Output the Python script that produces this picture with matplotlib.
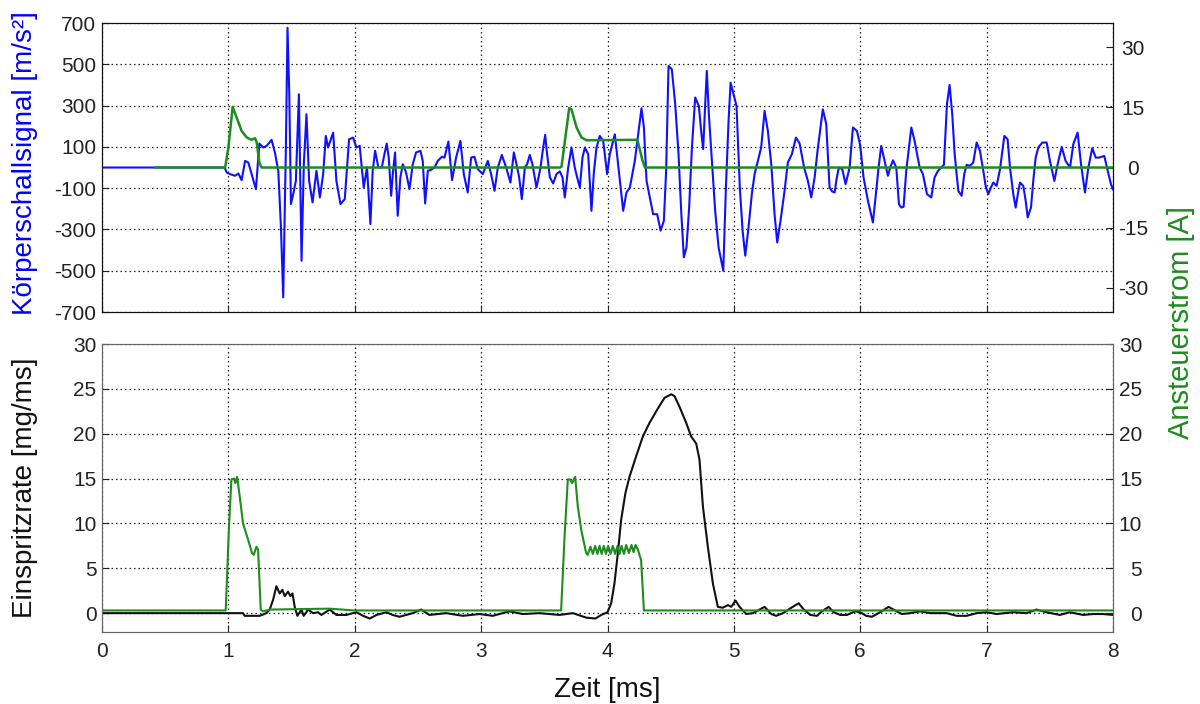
import numpy as np
import matplotlib.pyplot as plt

plt.rcParams['font.family'] = ['Liberation Sans', 'DejaVu Sans']
plt.rcParams['axes.unicode_minus'] = False

# top panel: Koerperschall (blue, left axis) and Ansteuerstrom (green, right axis)
t_ks = [0.0, 0.97, 0.987, 1.013, 1.053, 1.079, 1.105, 1.132, 1.158, 1.184, 1.218, 1.245, 1.276, 1.303,
        1.342, 1.368, 1.395, 1.416, 1.434, 1.455, 1.468, 1.482, 1.495, 1.513, 1.534, 1.558, 1.579, 1.597,
        1.618, 1.639, 1.666, 1.697, 1.724, 1.750, 1.771, 1.789, 1.829, 1.855, 1.887, 1.921, 1.955, 1.987,
        2.013, 2.039, 2.071, 2.097, 2.124, 2.142, 2.161, 2.187, 2.214, 2.235, 2.253, 2.269, 2.288, 2.301,
        2.319, 2.340, 2.361, 2.380, 2.406, 2.433, 2.459, 2.485, 2.520, 2.538, 2.557, 2.578, 2.604, 2.631,
        2.657, 2.689, 2.710, 2.741, 2.770, 2.802, 2.836, 2.863, 2.894, 2.921, 2.947, 2.974, 3.013, 3.053,
        3.079, 3.106, 3.132, 3.164, 3.198, 3.232, 3.259, 3.280, 3.301, 3.322, 3.346, 3.364, 3.385, 3.406,
        3.438, 3.470, 3.491, 3.507, 3.522, 3.544, 3.570, 3.596, 3.623, 3.644, 3.662, 3.689, 3.715, 3.741,
        3.760, 3.781, 3.802, 3.821, 3.847, 3.873, 3.892, 3.913, 3.939, 3.966, 3.997, 4.018, 4.058, 4.084,
        4.124, 4.150, 4.177, 4.216, 4.243, 4.269, 4.288, 4.309, 4.335, 4.361, 4.393, 4.420, 4.446, 4.464,
        4.483, 4.509, 4.536, 4.562, 4.583, 4.604, 4.625, 4.646, 4.668, 4.694, 4.723, 4.741, 4.757, 4.773,
        4.786, 4.802, 4.826, 4.852, 4.879, 4.900, 4.916, 4.937, 4.958, 4.974, 4.997, 5.021, 5.047, 5.069,
        5.090, 5.116, 5.142, 5.164, 5.190, 5.216, 5.243, 5.269, 5.296, 5.322, 5.343, 5.369, 5.401, 5.427,
        5.459, 5.491, 5.520, 5.541, 5.559, 5.586, 5.612, 5.639, 5.665, 5.704, 5.731, 5.757, 5.778, 5.797,
        5.815, 5.831, 5.858, 5.884, 5.916, 5.942, 5.974, 6.000, 6.026, 6.061, 6.079, 6.100, 6.121, 6.145,
        6.166, 6.193, 6.219, 6.237, 6.259, 6.285, 6.306, 6.325, 6.343, 6.364, 6.404, 6.430, 6.470, 6.496,
        6.528, 6.562, 6.588, 6.615, 6.641, 6.662, 6.686, 6.707, 6.728, 6.747, 6.776, 6.802, 6.823, 6.842,
        6.868, 6.894, 6.921, 6.947, 6.974, 6.992, 7.013, 7.034, 7.053, 7.079, 7.106, 7.140, 7.166, 7.185,
        7.211, 7.230, 7.251, 7.264, 7.290, 7.309, 7.325, 7.351, 7.369, 7.388, 7.409, 7.441, 7.475, 7.501,
        7.536, 7.562, 7.594, 7.625, 7.660, 7.686, 7.720, 7.747, 7.778, 7.805, 7.836, 7.863, 7.889, 7.931,
        7.958, 7.984, 8.000]
ks = [0, 0, -24, -32, -40, -29, -61, 32, 24, -32, -105, 116, 97, 105,
      134, 73, -16, -290, -629, 97, 677, 355, -177, -129, -65, 355, -452, 16,
      258, -65, -169, -16, -145, -32, 153, 97, 169, -65, -177, -153, 137, 145,
      97, 105, -97, 0, -274, -16, 81, 0, 0, 65, 116, 48, -137, -32,
      73, -234, -48, 16, -24, -105, 16, 73, 81, 32, -174, -16, -11, 0,
      32, 52, 48, 126, -61, 48, 129, -32, -121, 48, 52, -8, -32, 32,
      -32, -113, 0, 61, 0, -73, 73, 16, -48, -153, 0, 16, 61, 16,
      -97, 0, 97, 158, 65, -48, -77, -32, -19, -48, -145, 0, 97, 0,
      -48, -97, 48, 97, 65, -210, -24, 97, 153, 129, -32, 65, 161, 16,
      -210, -121, -97, 32, 161, 287, 194, -65, -145, -226, -226, -306, -258, -16,
      492, 476, 306, 65, -210, -435, -387, -194, 97, 339, 298, 177, 89, 306,
      468, 258, 32, -210, -387, -452, -500, -97, 226, 411, 355, 298, -97, -306,
      -427, -290, -129, -32, 32, 97, 274, 177, 16, -226, -363, -258, -113, 24,
      65, 145, 117, 48, -8, -65, -145, -48, 97, 282, 210, -97, -116, -121,
      -48, 0, -8, -81, 0, 194, 177, 105, -48, -161, -210, -266, -145, 0,
      105, 32, -40, 0, 35, 0, -177, -194, -190, -16, 194, 129, 0, -32,
      -129, -145, -48, -16, 0, 13, 306, 400, 258, 65, -113, -137, -32, 13,
      8, 24, 121, 81, -16, -89, -129, -97, -73, -89, -8, 153, 137, 0,
      -129, -194, -113, -73, -89, -161, -242, -194, -65, 48, 97, 121, 121, 32,
      -65, 16, 100, 32, 0, 113, 169, 16, -121, 0, 94, 48, 48, 56,
      -16, -81, -105]

t_i_top = [0.42, 0.974, 1.0, 1.034, 1.066, 1.105, 1.145, 1.184, 1.211, 1.224, 1.245, 1.263,
           3.623, 3.636, 3.697, 3.715, 3.755, 3.794, 3.834, 4.237, 4.277, 4.296, 8.0]
i_top = [0, 0, 5, 15.1, 12.4, 9.1, 7.5, 6.9, 7.3, 6.3, 1.2, 0,
         0, 0.2, 14.8, 14.5, 10, 7.5, 6.8, 6.9, 1.7, 0, 0]

# bottom panel: Einspritzrate (black, left axis) and Ansteuerstrom (green, right axis)
t_rate = [0, 1.116, 1.129, 1.248, 1.301, 1.327, 1.354, 1.380, 1.406, 1.427, 1.446, 1.472, 1.491, 1.507,
          1.525, 1.546, 1.578, 1.596, 1.631, 1.670, 1.710, 1.736, 1.802, 1.855, 1.934, 2.013, 2.066, 2.119,
          2.172, 2.251, 2.300, 2.354, 2.459, 2.525, 2.591, 2.723, 2.855, 2.987, 3.092, 3.224, 3.330, 3.462,
          3.620, 3.726, 3.831, 3.905, 3.950, 4.000, 4.029, 4.055, 4.082, 4.108, 4.142, 4.174, 4.227, 4.280,
          4.332, 4.398, 4.451, 4.504, 4.530, 4.570, 4.623, 4.662, 4.702, 4.728, 4.755, 4.794, 4.834, 4.873,
          4.913, 4.953, 4.979, 5.013, 5.045, 5.098, 5.150, 5.243, 5.296, 5.335, 5.388, 5.454, 5.513, 5.553,
          5.605, 5.658, 5.697, 5.750, 5.789, 5.842, 5.895, 5.961, 6.000, 6.047, 6.092, 6.158, 6.224, 6.276,
          6.329, 6.395, 6.474, 6.553, 6.684, 6.763, 6.842, 6.921, 7.000, 7.079, 7.211, 7.316, 7.395, 7.474,
          7.579, 7.658, 7.763, 7.842, 7.921, 8.000]
rate = [0, 0, -0.3, -0.3, 0, 0.4, 1.5, 3.0, 2.2, 2.6, 1.9, 2.4, 1.9, 2.2,
        0.7, -0.3, 0.4, -0.3, 0.4, 0, 0.1, -0.2, 0.4, -0.2, -0.2, 0.1, -0.3, -0.6,
        -0.2, 0.1, -0.2, -0.4, 0, 0.4, -0.2, 0, -0.3, -0.1, -0.3, 0.2, -0.1, 0,
        -0.2, 0, -0.5, -0.6, -0.2, 0.1, 1.1, 3.3, 6.7, 10.4, 13.4, 15.2, 17.5, 19.7,
        21.2, 22.8, 24.0, 24.4, 24.2, 23.0, 21.2, 19.7, 18.9, 17.1, 11.9, 7.4, 3.3, 0.7,
        0.6, 0.9, 0.7, 1.4, 0.7, -0.1, 0, 0.7, -0.1, -0.3, 0, 0.6, 1.1, 0.4,
        -0.2, -0.3, 0.2, 0.7, 0.1, -0.2, -0.2, 0.2, 0.1, -0.3, -0.4, 0.1, 0.7, 0.3,
        -0.1, 0, 0.2, 0, 0, -0.3, -0.3, 0, 0.1, -0.1, 0.1, 0, 0.4, 0.1,
        -0.2, 0.1, -0.2, -0.1, -0.1, -0.2]

t_i_bot = [0, 0.979, 1.005, 1.024, 1.045, 1.055, 1.069, 1.090, 1.116, 1.156, 1.187, 1.201, 1.222, 1.235,
           1.256, 1.274, 1.33, 1.8, 2.0, 3.633, 3.660, 3.686, 3.704, 3.720, 3.744, 3.765, 3.792, 3.831,
           3.844, 3.865, 3.884, 3.902, 3.920, 3.937, 3.954, 3.971, 3.988, 4.005, 4.024, 4.042, 4.060, 4.079,
           4.095, 4.111, 4.130, 4.148, 4.169, 4.190, 4.206, 4.222, 4.240, 4.266, 4.288, 8.0]
i_bot = [0.3, 0.3, 9.7, 14.9, 15.0, 14.5, 15.2, 13.0, 10.0, 8.2, 6.7, 6.5, 7.4, 7.1,
         0.4, 0.2, 0.4, 0.5, 0.3, 0.3, 8.5, 14.9, 14.9, 14.5, 15.2, 11.9, 9.3, 6.7,
         6.5, 7.4, 6.6, 7.5, 6.6, 7.5, 6.6, 7.5, 6.6, 7.5, 6.6, 7.5, 6.6, 7.5,
         6.6, 7.5, 6.6, 7.6, 6.7, 7.6, 6.8, 7.6, 7.1, 5.9, 0.3, 0.3]

blue = '#1010ff'
green = '#1e8c1e'
grid_kw = dict(color='#222222', linestyle=(0, (1.2, 2.4)), linewidth=0.9)


def style(ax, spine_col):
    for s in ax.spines.values():
        s.set_color(spine_col)
    ax.tick_params(direction='in', length=5, labelsize=15, colors='#222222')


fig = plt.figure(figsize=(12, 7.04), dpi=100)
ax1 = fig.add_axes([0.085, 0.5568, 0.8425, 0.4105])
ax2 = fig.add_axes([0.085, 0.1023, 0.8425, 0.409])

ax1.plot(t_ks, ks, color=blue, lw=1.5)
ax1.set_xlim(0, 8)
ax1.set_ylim(-700, 700)
ax1.set_yticks(np.arange(-700, 701, 200))
ax1.set_xticks(np.arange(0, 9, 1))
ax1.set_xticklabels([])
ax1.grid(True, **grid_kw)
style(ax1, '#111111')
ax1.tick_params(axis='y', pad=4)

ax1r = ax1.twinx()
ax1r.plot(t_i_top, i_top, color=green, lw=1.8)
ax1r.set_ylim(-36, 36)
ax1r.set_yticks([-30, -15, 0, 15, 30])
style(ax1r, '#111111')
ax1r.tick_params(axis='y', pad=14.5)
for lab in ax1r.get_yticklabels():
    lab.set_horizontalalignment('center')

ax2.plot(t_rate, rate, color='#111111', lw=1.5)
ax2.set_xlim(0, 8)
ax2.set_ylim(-2.1, 30)
ax2.set_yticks(np.arange(0, 31, 5))
ax2.set_xticks(np.arange(0, 9, 1))
ax2.grid(True, **grid_kw)
style(ax2, '#666666')
ax2.tick_params(axis='x', pad=7)
ax2.tick_params(axis='y', pad=4)

ax2r = ax2.twinx()
ax2r.plot(t_i_bot, i_bot, color=green, lw=1.5)
ax2r.set_ylim(-2.1, 30)
ax2r.set_yticks(np.arange(0, 31, 5))
style(ax2r, '#666666')
ax2r.tick_params(axis='y', pad=21)
for lab in ax2r.get_yticklabels():
    lab.set_horizontalalignment('right')

fig.text(0.021, 0.768, 'Körperschallsignal [m/s²]', rotation=90, color='#0000ff', fontsize=20,
         ha='center', va='center')
fig.text(0.021, 0.307, 'Einspritzrate [mg/ms]', rotation=90, color='#111111', fontsize=20,
         ha='center', va='center')
fig.text(0.984, 0.542, 'Ansteuerstrom [A]', rotation=90, color=green, fontsize=21,
         ha='center', va='center')
fig.text(0.506, 0.02, 'Zeit [ms]', color='#111111', fontsize=20, ha='center', va='center')

fig.savefig('out.png', dpi=100)
